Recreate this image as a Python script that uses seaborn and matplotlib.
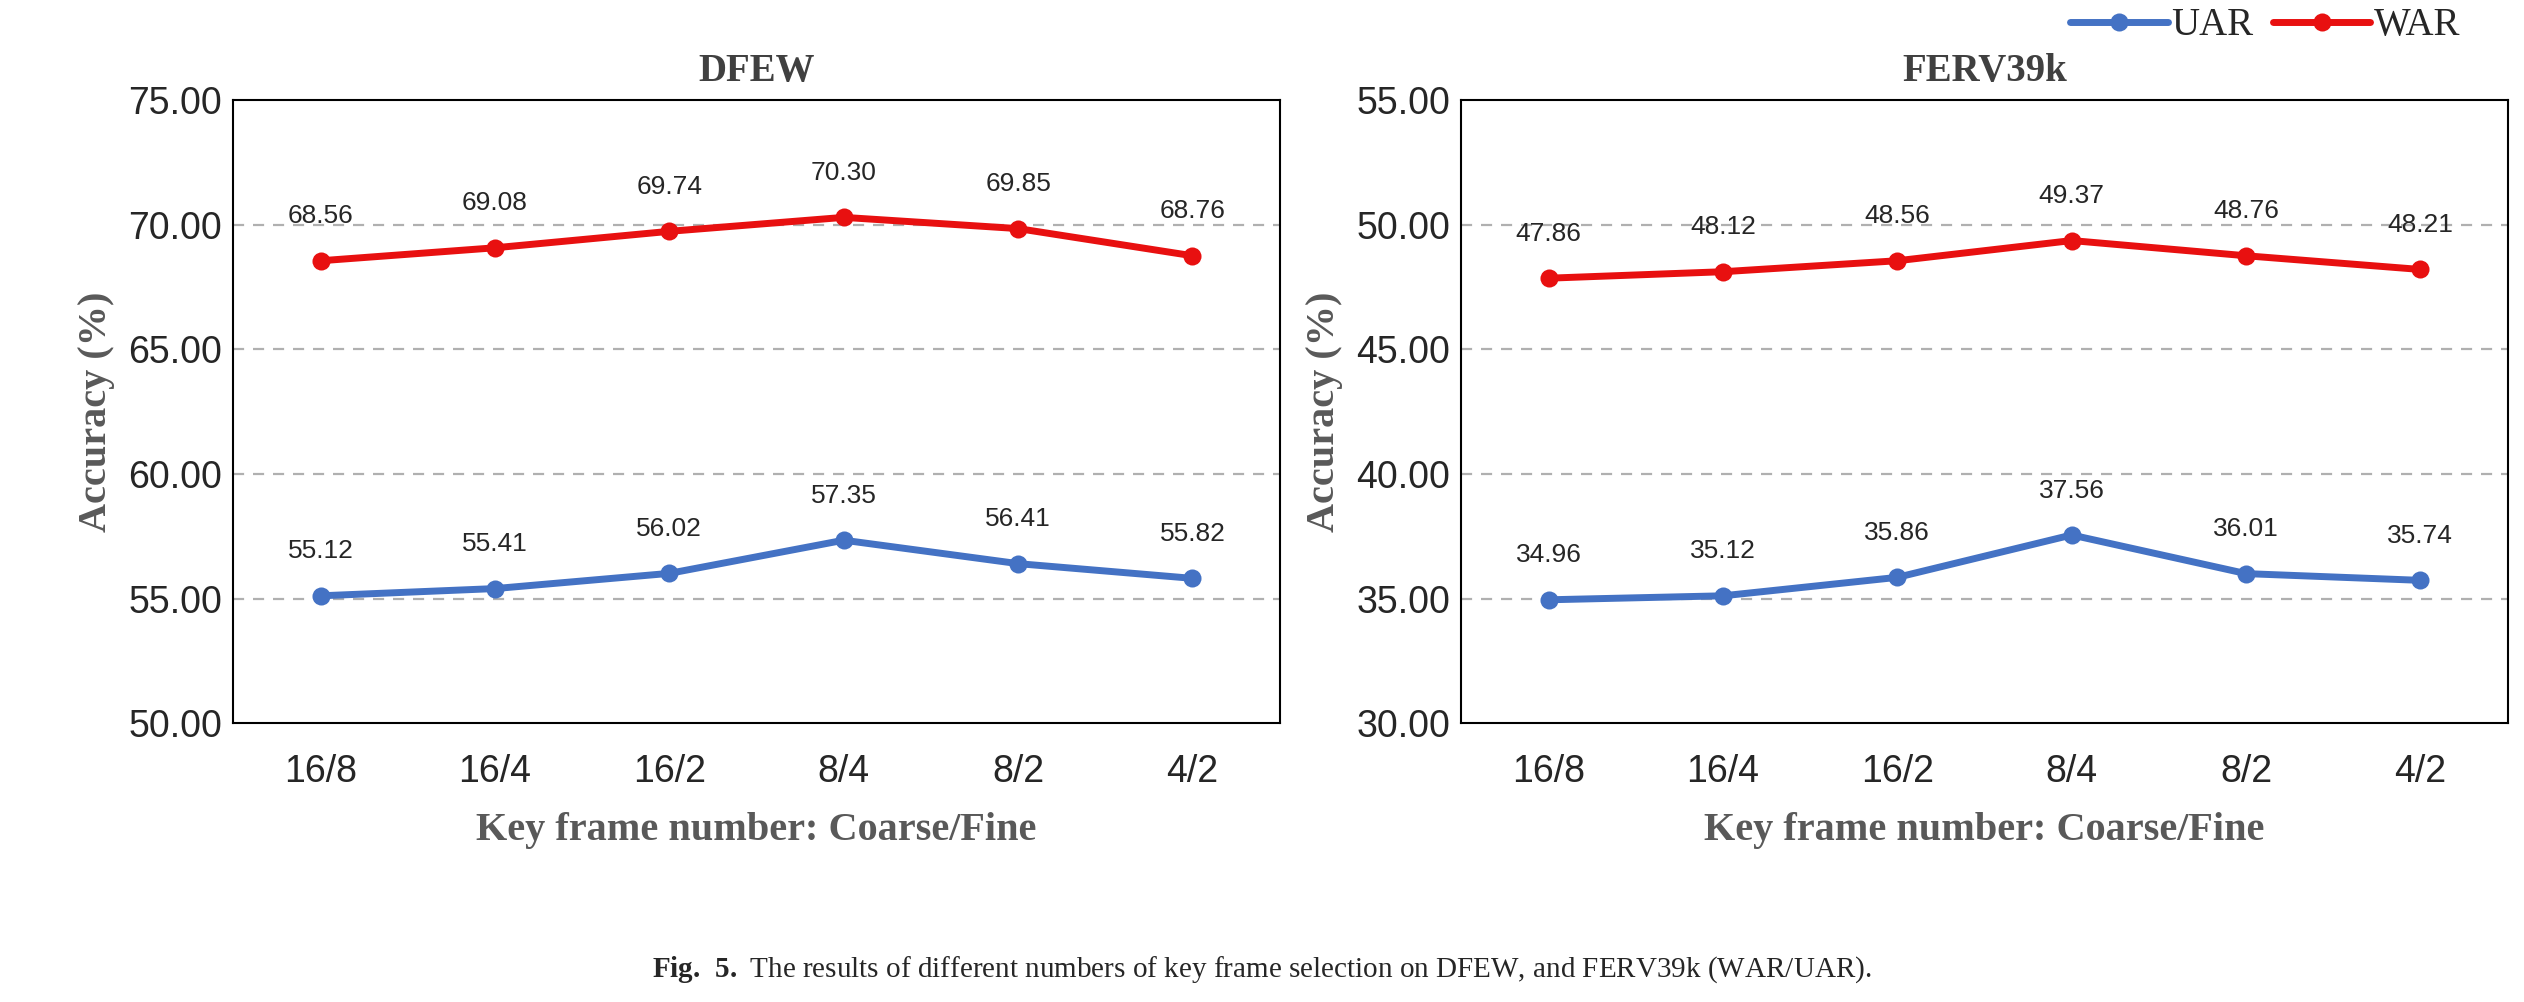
import numpy as np
import pandas as pd
import matplotlib
matplotlib.use("Agg")
import matplotlib.pyplot as plt
import seaborn as sns

sns.set_style("white")
plt.rcParams['font.family'] = ['Liberation Sans', 'DejaVu Sans']
plt.rcParams['mathtext.fontset'] = 'custom'
plt.rcParams['mathtext.rm'] = 'Liberation Serif'
plt.rcParams['mathtext.bf'] = 'Liberation Serif:bold'

frames = ["16/8", "16/4", "16/2", "8/4", "8/2", "4/2"]
dfew_uar = [55.12, 55.41, 56.02, 57.35, 56.41, 55.82]
dfew_war = [68.56, 69.08, 69.74, 70.30, 69.85, 68.76]
ferv_uar = [34.96, 35.12, 35.86, 37.56, 36.01, 35.74]
ferv_war = [47.86, 48.12, 48.56, 49.37, 48.76, 48.21]

fig = plt.figure(figsize=(25.24, 10.02), dpi=100)
ax1 = fig.add_axes([0.0925, 0.278, 0.4145, 0.622])
ax2 = fig.add_axes([0.579, 0.278, 0.4145, 0.622])

serif = ['Liberation Serif', 'DejaVu Serif']
blue, red = "#4472C4", "#E81010"

def panel(ax, title, uar, war, lo, hi):
    df = pd.DataFrame({"x": frames * 2, "y": uar + war,
                       "m": ["UAR"] * 6 + ["WAR"] * 6})
    sns.lineplot(data=df, x="x", y="y", hue="m", palette=[blue, red], ax=ax,
                 marker="o", markersize=13, markeredgewidth=0, linewidth=5,
                 sort=False, legend=(ax is ax2))
    for i in range(6):
        for v in (uar[i], war[i]):
            ax.text(i, v + 1.3, f"{v:.2f}", ha="center", va="bottom", fontsize=19)
    ax.set_ylim(lo, hi)
    ax.set_yticks(np.arange(lo, hi + 0.1, 5))
    ax.set_yticklabels([f"{v:.2f}" for v in np.arange(lo, hi + 0.1, 5)], fontsize=27)
    ax.set_xlim(-0.5, 5.5)
    ax.set_xticks(range(6))
    ax.set_xticklabels(frames, fontsize=27)
    for y in np.arange(lo + 5, hi, 5):
        ax.axhline(y, color="#b0b0b0", ls=(0, (5, 4)), lw=1.6, zorder=0)
    for s in ax.spines.values():
        s.set_color("black")
        s.set_linewidth(1.5)
    ax.tick_params(axis="x", length=0, pad=22)
    ax.tick_params(axis="y", length=0, pad=8)
    ax.set_title(title, fontsize=28, fontweight="bold", family=serif, color="#404040", pad=14)
    ax.set_xlabel("Key frame number: Coarse/Fine", fontsize=29, fontweight="bold",
                  family=serif, color="#595959", labelpad=16)
    ax.set_ylabel("Accuracy (%)", fontsize=29, fontweight="bold",
                  family=serif, color="#595959", labelpad=10)

panel(ax1, "DFEW", dfew_uar, dfew_war, 50, 75)
panel(ax2, "FERV39k", ferv_uar, ferv_war, 30, 55)

ax2.legend(loc="lower right", bbox_to_anchor=(0.97, 1.065), ncol=2, frameon=False,
           prop={"family": serif, "size": 28}, handlelength=2.5, columnspacing=0.5,
           handletextpad=0.1, borderaxespad=0)

fig.text(0.5, 0.025, r"$\mathbf{Fig.\ 5.}$ The results of different numbers of key frame selection on DFEW, and FERV39k (WAR/UAR).",
         ha="center", fontsize=21, family=serif)

fig.savefig("out.png", dpi=100)
